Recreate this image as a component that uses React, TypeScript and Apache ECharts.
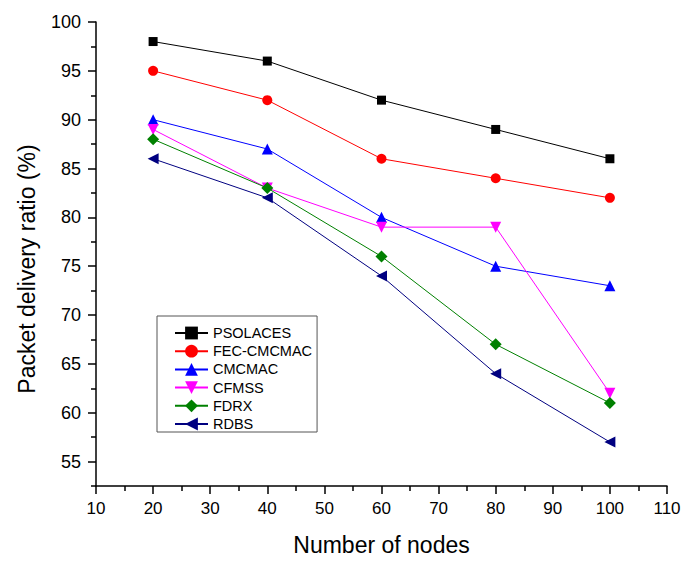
import React, { useEffect, useRef } from 'react';
import * as echarts from 'echarts';

const nodes = [20, 40, 60, 80, 100];
const psolaces = [98, 96, 92, 89, 86];
const fecCmcmac = [95, 92, 86, 84, 82];
const cmcmac = [90, 87, 80, 75, 73];
const cfmss = [89, 83, 79, 79, 62];
const fdrx = [88, 83, 76, 67, 61];
const rdbs = [86, 82, 74, 64, 57];

const seriesNames = ['PSOLACES', 'FEC-CMCMAC', 'CMCMAC', 'CFMSS', 'FDRX', 'RDBS'];
const yMajorTicks = [55, 60, 65, 70, 75, 80, 85, 90, 95, 100];
const yMinorTicks = [52.5, 57.5, 62.5, 67.5, 72.5, 77.5, 82.5, 87.5, 92.5, 97.5];

const FONT = "'Liberation Sans', Arial, sans-serif";

export default function App() {
  const ref = useRef<HTMLDivElement>(null);
  useEffect(() => {
    if (!ref.current) return;
    const chart = echarts.init(ref.current, null, { renderer: 'svg' });
    const values = [psolaces, fecCmcmac, cmcmac, cfmss, fdrx, rdbs];
    const colors = ['#000000', '#ff0000', '#0000ff', '#ff00ff', '#008000', '#000080'];
    const symbols = ['rect', 'circle', 'triangle', 'triangle', 'diamond', 'triangle'];
    const sizes: any[] = [9, 10, 11, 11, 12, [11, 11]];
    const rotates = [0, 0, 0, 180, 0, 90];
    const series = seriesNames.map((name, i) => ({
      name,
      type: 'line',
      data: nodes.map((x, j) => [x, values[i][j]]),
      symbol: symbols[i],
      symbolSize: sizes[i],
      symbolRotate: rotates[i],
      showAllSymbol: true,
      lineStyle: { color: colors[i], width: 1 },
      itemStyle: { color: colors[i] },
      yAxisIndex: 0,
    }));
    chart.setOption({
      animation: false,
      backgroundColor: '#ffffff',
      textStyle: { fontFamily: FONT },
      grid: { left: 96, right: 19, top: 22, bottom: 74 },
      legend: {
        orient: 'vertical',
        left: 157,
        top: 316,
        padding: [9, 5, 0, 17],
        itemWidth: 33,
        itemHeight: 16,
        itemGap: 2.2,
        borderColor: '#555',
        borderWidth: 1,
        borderRadius: 0,
        textStyle: { fontSize: 14.5, fontFamily: FONT, color: '#000', lineHeight: 16 },
        data: seriesNames,
      },
      xAxis: {
        type: 'value',
        min: 10,
        max: 110,
        interval: 10,
        name: 'Number of nodes',
        nameLocation: 'middle',
        nameGap: 47,
        nameTextStyle: { fontSize: 23, fontFamily: FONT, color: '#000' },
        axisLine: { show: true, lineStyle: { color: '#000', width: 1.5 } },
        axisTick: { show: true, length: 8, lineStyle: { color: '#000', width: 1.5 } },
        minorTick: { show: true, splitNumber: 2, length: 5, lineStyle: { color: '#000', width: 1.5 } },
        axisLabel: { fontSize: 17, fontFamily: FONT, color: '#000', margin: 14 },
        splitLine: { show: false },
      },
      yAxis: [
        {
          type: 'value',
          min: 52.5,
          max: 100,
          position: 'left',
          name: 'Packet delivery ratio (%)',
          nameLocation: 'middle',
          nameGap: 58,
          nameTextStyle: { fontSize: 23, fontFamily: FONT, color: '#000', padding: [0, 30, 0, 0] },
          axisLine: { show: true, lineStyle: { color: '#000', width: 1.5 } },
          axisTick: { show: true, length: 8, customValues: yMajorTicks, lineStyle: { color: '#000', width: 1.5 } },
          axisLabel: { fontSize: 18, fontFamily: FONT, color: '#000', margin: 15, customValues: yMajorTicks },
          splitLine: { show: false },
        },
        {
          type: 'value',
          min: 52.5,
          max: 100,
          position: 'left',
          axisLine: { show: false },
          axisTick: { show: true, length: 5, customValues: yMinorTicks, lineStyle: { color: '#000', width: 1.5 } },
          axisLabel: { show: false, customValues: yMinorTicks },
          splitLine: { show: false },
        },
      ],
      series,
    });
    return () => chart.dispose();
  }, []);
  return (
    <div
      ref={ref}
      style={{ position: 'fixed', left: 0, top: 0, width: 686, height: 561, background: '#fff' }}
    />
  );
}
